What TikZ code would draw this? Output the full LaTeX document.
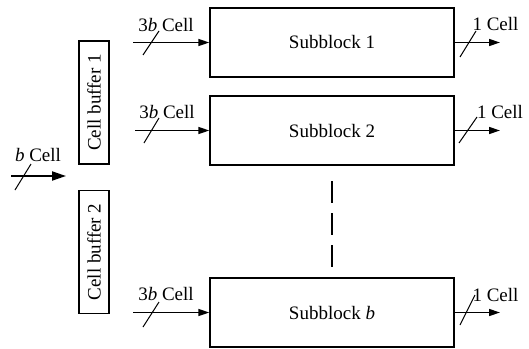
\documentclass[tikz,border=0pt]{standalone}
\usepackage{fontspec}
\setmainfont{Liberation Serif}
\usepackage{tikz}
\usetikzlibrary{arrows.meta}
\tikzset{>={Triangle[width=3.5pt,length=5.5pt]}}

\begin{document}
\begin{tikzpicture}[x=0.5pt,y=-0.5pt,font=\fontsize{9.5}{11}\selectfont,line width=0.7pt,
	subblock/.style={draw=black,minimum width=122pt,minimum height=34.5pt,inner sep=0pt},
	cellbuffer/.style={draw=black,rotate=90,minimum width=61.5pt,minimum height=15pt,inner sep=0pt},
	bus/.style={line width=0.5pt}]
					\useasboundingbox (0,0) rectangle (529,348);
					\node[subblock] (sub1) at (332,42.5) {Subblock 1};
					\node[subblock] (sub2) at (332,130.5) {Subblock 2};
					\node[subblock] (subb) at (332,312.5) {Subblock \textit{b}};
					\node[cellbuffer] (buf1) at (94,102.5) {Cell buffer 1};
					\node[cellbuffer] (buf2) at (94,252) {Cell buffer 2};
					% inputs
					\coordinate (bin) at (11,176);
					\coordinate (bend) at (66,176);
					\coordinate (in1) at (133,42.5);
					\coordinate (in2) at (135,130.5);
					\coordinate (inb) at (133,312.5);
					\draw[-{Triangle[width=4.5pt,length=7pt]},line width=1pt] (bin) -- (bend);
					\draw[->] (in1) -- (sub1.west);
					\draw[->] (in2) -- (sub2.west);
					\draw[->] (inb) -- (subb.west);
					% outputs
					\coordinate (out1) at (500,42.5);
					\coordinate (out2) at (500,130.5);
					\coordinate (outb) at (500,312.5);
					\draw[->] (sub1.east) -- (out1);
					\draw[->] (sub2.east) -- (out2);
					\draw[->] (subb.east) -- (outb);
					% bus slashes
					\draw[bus] (15,190) -- (31,164);
					\draw[bus] (143,55) -- (159,31);
					\draw[bus] (144,143) -- (159,118);
					\draw[bus] (143,327) -- (159,302);
					\draw[bus] (460,57) -- (476,31);
					\draw[bus] (459,143) -- (477,117);
					\draw[bus] (460,325) -- (475,295);
					% labels
					\node (lbin) at (38,155) {\textit{b} Cell};
					\node (lin1) at (166,25) {3\textit{b} Cell};
					\node (lin2) at (167,112) {3\textit{b} Cell};
					\node (linb) at (166,294) {3\textit{b} Cell};
					\node (lout1) at (495.5,24) {1 Cell};
					\node (lout2) at (500,112) {1 Cell};
					\node (loutb) at (495.5,295) {1 Cell};
					% more subblocks
					\coordinate (dots1) at (332,181);
					\coordinate (dots2) at (332,267);
					\draw[line width=1pt,dash pattern=on 11pt off 5pt] (dots1) -- (dots2);
				\end{tikzpicture}
\end{document}
